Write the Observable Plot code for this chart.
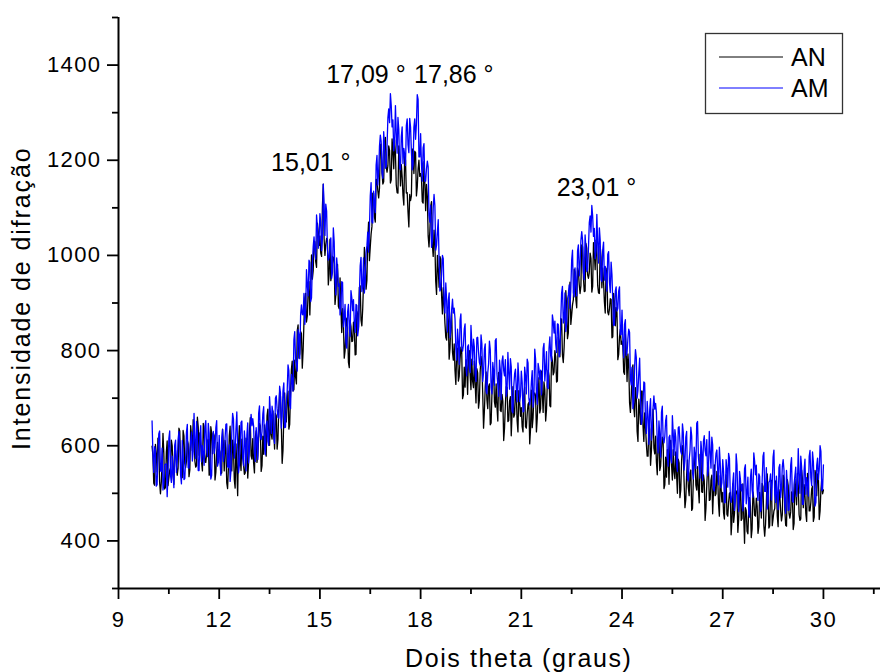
<!DOCTYPE html>
<html>
<head>
<meta charset="utf-8">
<script src="https://cdn.jsdelivr.net/npm/d3@7"></script>
<script src="https://cdn.jsdelivr.net/npm/@observablehq/plot@0.6"></script>
<style>
  body { margin: 0; background: #fff; }
  #chart svg { display: block; }
</style>
</head>
<body>
<div id="chart"></div>
<script>
// 2-theta grid: starts at 10 degrees, step 0.025 degrees
const thetaStart = 10;
const thetaStep = 0.025;

// AN series (black), intensity per grid point (one row = 1 degree)
const AN = [
  599,580,521,517,603,584,545,616,607,523,499,523,567,626,585,509,513,587,610,516,532,548,554,612,600,540,519,599,589,559,538,553,637,631,565,534,533,632,621,563,
  554,568,612,604,535,549,642,621,590,655,630,568,555,558,660,640,580,627,604,566,547,647,636,566,565,582,609,614,538,544,640,627,583,627,621,528,544,586,607,580,
  592,587,541,543,635,601,547,611,594,522,510,556,621,641,561,547,612,595,528,511,604,555,495,604,642,575,548,614,589,560,540,543,616,604,532,565,628,659,579,572,
  615,564,543,617,631,565,579,618,647,642,546,558,620,582,644,631,578,663,677,629,601,668,624,614,673,628,593,668,663,593,613,678,713,704,645,563,590,661,711,661,
  650,703,715,635,645,713,760,778,715,718,780,745,730,842,854,784,793,840,836,763,800,860,910,920,860,873,925,945,875,933,1001,950,968,1029,1029,987,975,1068,1050,1021,
  1041,1005,998,1104,1150,1035,1000,1023,1036,1032,938,961,1034,947,960,998,996,982,897,918,958,981,893,888,953,891,838,888,858,784,800,849,868,847,775,764,863,851,819,820,
  860,846,791,792,883,876,849,933,936,864,852,888,943,1017,990,929,948,1034,1070,989,1018,1045,1061,1131,1131,1081,1070,1160,1160,1136,1121,1142,1233,1234,1174,1150,1155,1235,1248,1187,
  1175,1188,1230,1221,1152,1159,1245,1219,1182,1243,1214,1148,1132,1131,1230,1208,1146,1191,1166,1126,1106,1208,1200,1131,1132,1091,1060,1128,1115,1125,1224,1213,1172,1219,1216,1125,1144,1182,1200,1166,
  1172,1163,1113,1110,1197,1156,1094,1149,1124,1041,1018,1051,1103,1113,1023,998,1053,1025,946,918,1000,972,933,998,992,915,877,932,896,857,828,822,885,864,782,805,858,882,796,780,
  814,757,729,797,805,736,746,782,807,798,699,707,765,723,781,765,708,789,800,749,718,782,735,722,778,729,690,762,753,679,695,757,788,774,710,637,673,724,755,697,
  678,724,730,644,648,709,750,761,692,681,730,681,652,754,755,674,672,708,694,611,637,686,724,723,651,653,694,703,621,668,724,660,666,716,705,652,629,716,693,662,
  680,640,629,706,723,640,637,667,687,691,604,636,717,638,659,705,711,705,629,658,706,743,669,678,757,709,670,734,718,652,676,733,759,747,684,682,789,779,749,755,
  800,787,734,736,828,818,787,867,866,791,775,807,859,926,893,825,837,916,944,855,875,896,907,971,964,907,890,974,967,939,920,936,1022,1018,953,924,925,1025,1015,959,
  952,964,1005,994,923,935,1027,1004,970,1032,1003,937,921,920,1019,996,932,974,945,902,879,973,957,881,875,887,909,908,827,829,920,901,852,891,880,781,792,829,845,813,
  820,808,755,750,835,795,735,793,770,690,670,705,760,770,680,661,722,701,630,609,698,677,645,715,715,642,609,669,639,604,578,578,648,634,559,589,649,677,595,583,
  620,565,539,609,618,548,557,593,618,609,510,518,576,534,592,576,519,600,611,560,528,592,545,531,587,539,500,572,564,491,507,569,600,587,523,470,487,539,570,513,
  495,542,549,464,468,530,572,585,517,507,556,508,480,582,584,503,502,539,526,443,469,518,557,556,485,487,528,538,457,504,560,495,499,546,533,478,452,537,512,482,
  502,459,446,523,539,456,452,481,500,502,413,442,520,439,457,501,505,497,418,445,491,522,443,447,520,453,395,470,464,420,415,468,491,474,407,425,503,489,454,452,
  490,473,416,430,502,485,448,521,514,432,410,435,480,541,501,427,432,505,527,432,447,463,468,526,514,452,430,508,496,464,442,455,538,532,465,433,431,529,517,458,
  448,461,503,494,424,437,530,508,476,542,517,455,443,446,549,530,470,518,495,458,441,542,532,463,463,481,509,515,441,450,548,537,495,541,536,445,463,507,530,499,
  507
];

// AM series (blue), intensity per grid point (one row = 1 degree)
const AM = [
  652,583,544,598,591,515,518,577,625,631,547,546,595,507,518,560,561,562,493,544,615,631,537,523,578,540,512,602,612,544,566,613,630,609,538,520,611,580,529,531,
  572,629,645,554,553,592,610,629,568,588,668,611,573,651,628,548,548,620,642,566,600,585,559,641,653,595,577,647,626,573,530,538,615,630,584,596,638,653,557,565,
  622,565,538,616,634,567,579,617,645,646,556,554,602,525,547,628,668,656,574,595,635,671,597,543,558,599,649,652,575,558,631,604,547,623,648,564,590,638,666,642,
  657,641,585,567,638,615,571,668,684,619,613,630,667,682,596,581,645,652,609,601,703,670,626,683,670,618,605,700,705,678,660,658,725,711,637,661,715,732,638,639,
  690,715,770,758,685,678,750,738,715,823,840,780,770,757,844,834,783,875,896,876,875,920,855,878,970,938,915,990,985,903,911,980,1018,1039,1009,992,1085,1060,1015,1032,
  1088,1069,1010,1035,1150,1106,1042,1108,1093,1012,990,996,1021,1037,952,965,1058,1029,949,917,995,970,935,940,875,890,945,943,850,869,897,816,805,881,897,849,830,926,911,884,
  907,858,838,897,895,831,846,917,978,996,924,935,995,921,947,1004,1020,1049,1007,1056,1125,1153,1070,1068,1135,1108,1090,1190,1210,1148,1176,1230,1253,1239,1174,1162,1260,1232,1183,1187,
  1230,1289,1308,1279,1340,1315,1270,1285,1220,1238,1315,1255,1215,1290,1265,1183,1180,1250,1270,1193,1225,1212,1189,1273,1287,1232,1216,1288,1270,1220,1180,1190,1269,1287,1244,1276,1338,1328,1207,1207,
  1256,1191,1156,1226,1235,1156,1156,1182,1198,1186,1084,1070,1105,1017,1029,1099,1128,1105,1011,1021,1050,1075,990,925,930,960,1000,993,905,879,942,906,839,905,921,827,843,886,908,879,
  889,867,804,780,845,818,771,864,877,808,799,812,845,856,766,747,808,812,765,754,853,817,770,824,808,752,735,827,828,797,775,769,833,814,735,754,803,814,715,709,
  753,772,820,802,723,709,775,756,727,821,825,751,727,704,780,759,697,778,789,758,747,781,704,715,796,753,719,783,766,673,669,725,751,761,720,692,774,744,693,705,
  757,734,671,673,765,747,709,782,774,700,686,700,734,758,681,702,803,782,711,687,773,762,740,759,707,736,804,815,736,762,798,724,720,805,829,789,778,875,862,837,
  862,814,796,856,855,787,798,865,921,935,858,865,921,840,859,908,917,938,889,930,990,1011,922,913,974,940,915,1009,1022,957,981,1031,1050,1032,964,949,1043,1015,966,971,
  1015,1069,1083,1049,1105,1083,1040,1057,993,1010,1086,1025,984,1058,1032,949,945,1012,1028,948,977,956,925,1002,1008,945,922,986,960,902,853,854,925,934,883,889,925,934,833,834,
  885,820,785,855,865,790,795,825,845,838,740,728,765,678,690,766,802,786,700,717,753,784,705,645,655,690,734,732,649,626,693,663,603,676,699,612,634,680,705,677,
  689,669,608,585,652,624,576,670,683,615,606,620,653,664,575,557,618,622,575,564,663,627,580,634,618,562,546,638,640,609,588,582,646,628,549,569,618,630,531,526,
  570,590,639,621,543,530,597,580,552,647,651,578,555,532,609,588,527,609,621,590,579,613,537,549,630,587,553,618,602,509,505,560,584,591,548,518,597,565,512,522,
  571,546,480,481,571,552,513,584,574,498,481,492,522,543,464,484,583,560,487,462,546,531,505,519,463,488,552,560,478,501,534,457,450,531,551,507,492,585,568,539,
  559,507,485,541,536,462,467,528,578,586,504,504,554,467,480,523,526,541,486,521,576,591,496,481,536,496,466,554,561,491,511,556,571,549,477,458,548,516,464,465,
  505,560,575,483,481,519,537,555,493,514,594,537,500,578,556,477,477,550,572,498,533,519,494,577,590,533,516,587,567,515,473,481,559,574,529,550,600,588,506,508,
  560
];

// Peak annotations
const peakLabels = ["15,01 °", "17,09 °", "17,86 °", "23,01 °"];
const peakX = [14.73, 16.37, 18.99, 23.24];
const peakY = [1194, 1379, 1379, 1141];

// Axis ticks
const xMajor = [9, 12, 15, 18, 21, 24, 27, 30];
const xMinor = [10.5, 13.5, 16.5, 19.5, 22.5, 25.5, 28.5, 31.5];
const yMajor = [400, 600, 800, 1000, 1200, 1400];
const yMinor = [300, 500, 700, 900, 1100, 1300, 1500];

const seriesNames = ["AN", "AM"];
const seriesColors = ["#000000", "#0000ff"];

const toRows = (arr) => arr.map((v, i) => ({theta: thetaStart + i * thetaStep, v}));
const anRows = toRows(AN);
const amRows = toRows(AM);

const font = "'Liberation Sans', Arial, Helvetica, sans-serif";

const plot = Plot.plot({
  width: 881,
  height: 672,
  marginLeft: 118,
  marginRight: 1,
  marginTop: 17,
  marginBottom: 84,
  style: {fontFamily: font, background: "#fff", color: "#000", overflow: "visible"},
  x: {domain: [9, 31.7]},
  y: {domain: [300, 1500]},
  marks: [
    Plot.line(anRows, {x: "theta", y: "v", stroke: seriesColors[0], strokeWidth: 1.3}),
    Plot.line(amRows, {x: "theta", y: "v", stroke: seriesColors[1], strokeWidth: 1.3}),
    Plot.ruleX([9], {stroke: "#000", strokeWidth: 2}),
    Plot.ruleY([300], {stroke: "#000", strokeWidth: 2}),
    Plot.axisX({ticks: xMajor, tickSize: 11, tickPadding: 12, fontSize: 22, strokeWidth: 1.8, label: null, tickFormat: d => String(d)}),
    Plot.axisX({ticks: xMinor, tickSize: 6, strokeWidth: 1.8, label: null, tickFormat: () => ""}),
    Plot.axisY({ticks: yMajor, tickSize: 11, tickPadding: 6, fontSize: 22, strokeWidth: 1.8, label: null, tickFormat: d => String(d)}),
    Plot.axisY({ticks: yMinor, tickSize: 6, strokeWidth: 1.8, label: null, tickFormat: () => ""}),
    Plot.text(peakLabels, {
      x: (d, i) => peakX[i],
      y: (d, i) => peakY[i],
      text: d => d,
      fontSize: 25,
      textAnchor: "middle",
      lineAnchor: "middle",
      fill: "#000"
    })
  ]
});

const svg = d3.select(plot);
svg.selectAll('g[aria-label$="tick label"] text').attr("letter-spacing", 1.4);

// Axis titles
svg.append("text")
  .attr("x", 405).attr("y", 667)
  .attr("text-anchor", "start")
  .attr("font-size", 25)
  .attr("letter-spacing", 1.6)
  .attr("fill", "#000")
  .attr("font-family", font)
  .text("Dois theta (graus)");

svg.append("text")
  .attr("transform", "translate(30,450) rotate(-90)")
  .attr("text-anchor", "start")
  .attr("font-size", 25)
  .attr("letter-spacing", 1.9)
  .attr("fill", "#000")
  .attr("font-family", font)
  .text("Intensidade de difração");

// Legend
const lg = svg.append("g").attr("font-family", font);
lg.append("rect")
  .attr("x", 705.5).attr("y", 33.5).attr("width", 137).attr("height", 80)
  .attr("fill", "#fff").attr("stroke", "#333").attr("stroke-width", 1.3);
seriesNames.forEach((name, i) => {
  const cy = 57 + i * 31;
  lg.append("line")
    .attr("x1", 719).attr("x2", 783).attr("y1", cy).attr("y2", cy)
    .attr("stroke", seriesColors[i]).attr("stroke-width", 1);
  lg.append("text")
    .attr("x", 791).attr("y", cy + 9)
    .attr("text-anchor", "start")
    .attr("font-size", 25).attr("fill", "#000")
    .text(name);
});

document.getElementById("chart").appendChild(plot);
</script>
</body>
</html>
